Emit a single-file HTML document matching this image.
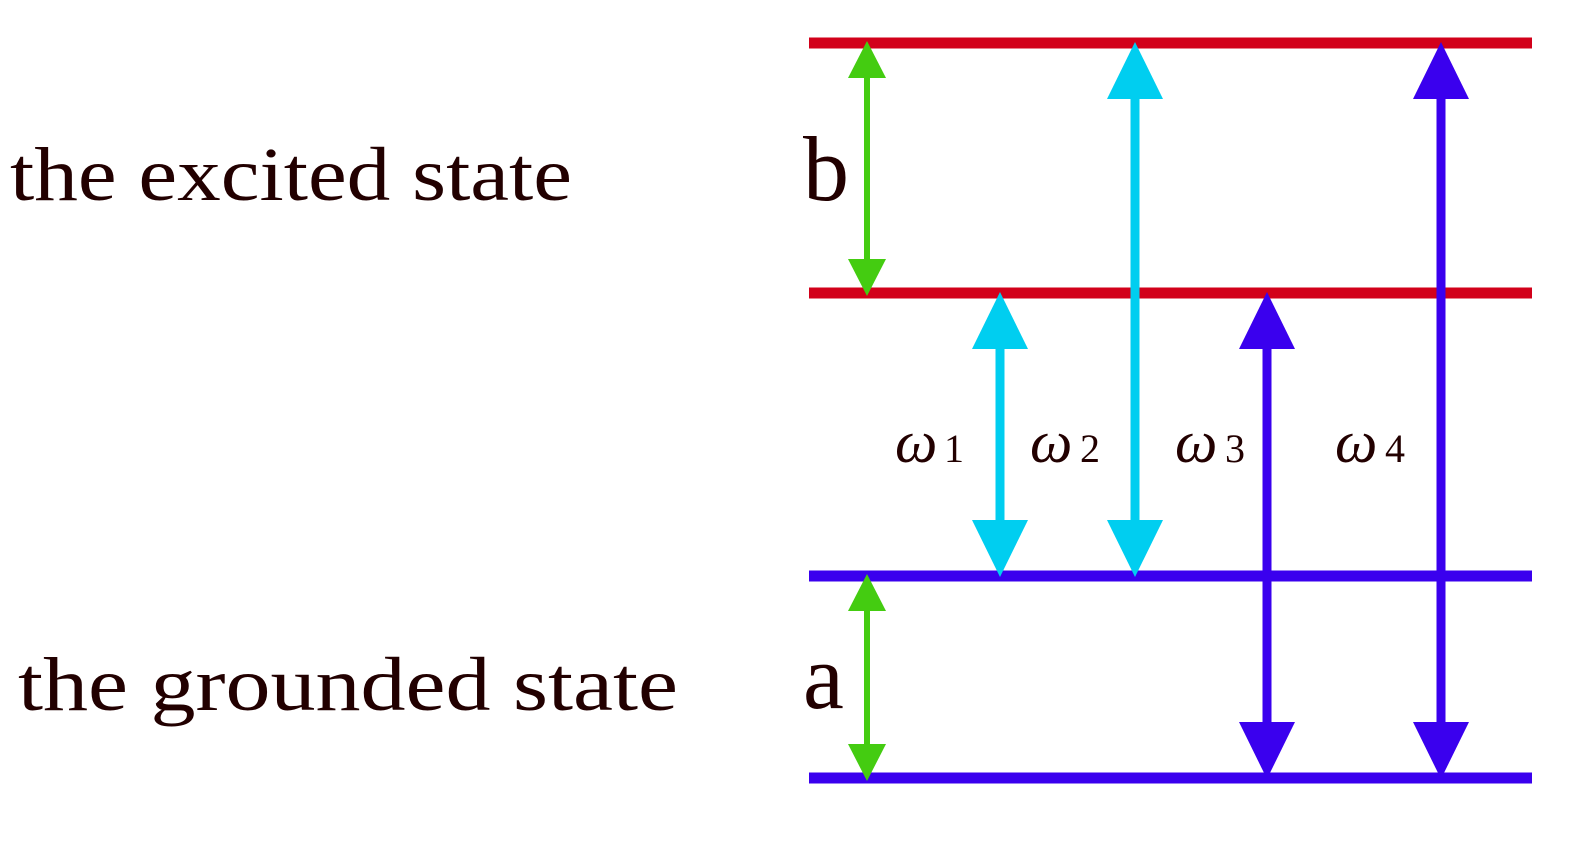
<!DOCTYPE html>
<html><head><style>html,body{margin:0;padding:0;background:#fff}</style></head>
<body>
<svg width="1593" height="837" viewBox="0 0 1593 837" xmlns="http://www.w3.org/2000/svg">
<g stroke-width="11">
<line x1="809" y1="43" x2="1532" y2="43" stroke="#d2001a"/>
<line x1="809" y1="293" x2="1532" y2="293" stroke="#d2001a"/>
<line x1="809" y1="576" x2="1532" y2="576" stroke="#3a00ee"/>
<line x1="809" y1="778" x2="1532" y2="778" stroke="#3a00ee"/>
</g>
<!-- green -->
<g fill="#44cc11" stroke="#44cc11">
<line x1="867" y1="70" x2="867" y2="265" stroke-width="6"/>
<polygon points="867,41 848,78 886,78" stroke="none"/>
<polygon points="867,296 848,259 886,259" stroke="none"/>
<line x1="867" y1="600" x2="867" y2="755" stroke-width="6"/>
<polygon points="867,574 848,611 886,611" stroke="none"/>
<polygon points="867,781 848,744 886,744" stroke="none"/>
</g>
<!-- cyan -->
<g fill="#00cef0" stroke="#00cef0">
<line x1="1000" y1="340" x2="1000" y2="530" stroke-width="9"/>
<polygon points="1000,292 972,349 1028,349" stroke="none"/>
<polygon points="1000,577 972,520 1028,520" stroke="none"/>
<line x1="1135" y1="90" x2="1135" y2="530" stroke-width="9"/>
<polygon points="1135,42 1107,99 1163,99" stroke="none"/>
<polygon points="1135,577 1107,520 1163,520" stroke="none"/>
</g>
<!-- blue -->
<g fill="#3a00ee" stroke="#3a00ee">
<line x1="1267" y1="340" x2="1267" y2="730" stroke-width="9"/>
<polygon points="1267,292 1239,349 1295,349" stroke="none"/>
<polygon points="1267,779 1239,722 1295,722" stroke="none"/>
<line x1="1441" y1="90" x2="1441" y2="730" stroke-width="9"/>
<polygon points="1441,42 1413,99 1469,99" stroke="none"/>
<polygon points="1441,779 1413,722 1469,722" stroke="none"/>
</g>
<g fill="#220000" font-family="Liberation Serif, serif">
<text x="10" y="200" font-size="76" textLength="562" lengthAdjust="spacingAndGlyphs">the excited state</text>
<text x="18" y="710" font-size="76" textLength="660" lengthAdjust="spacingAndGlyphs">the grounded state</text>
<text x="803" y="200" font-size="92">b</text>
<text x="803" y="708" font-size="92">a</text>
<g font-size="60" font-style="italic">
<text x="895" y="462">ω</text><text x="1030" y="462">ω</text><text x="1175" y="462">ω</text><text x="1335" y="462">ω</text>
</g>
<g font-size="40">
<text x="944" y="462">1</text><text x="1080" y="462">2</text><text x="1225" y="462">3</text><text x="1385" y="462">4</text>
</g>
</g>
</svg>
</body></html>
